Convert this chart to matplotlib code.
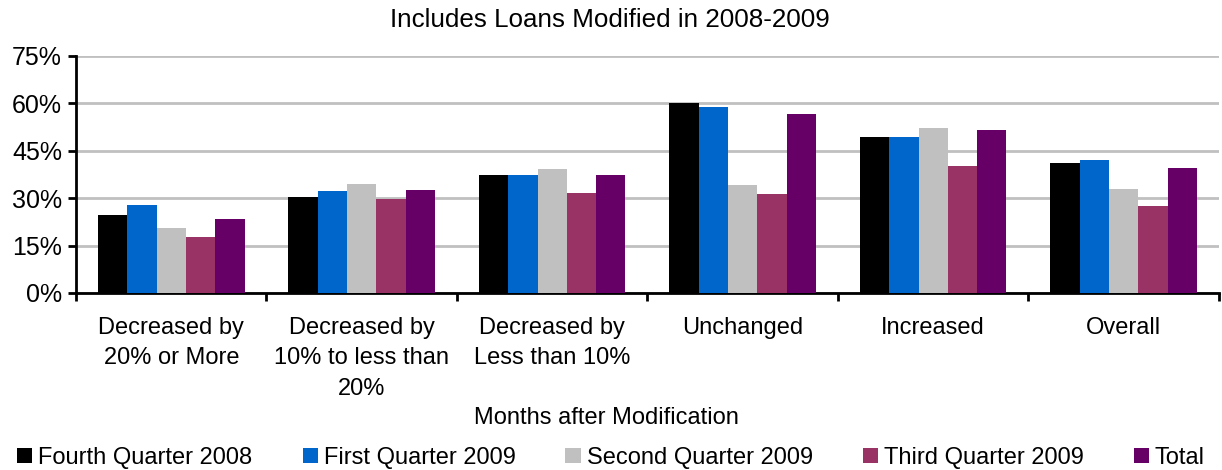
import matplotlib
matplotlib.use("Agg")
import matplotlib.pyplot as plt
from matplotlib.patches import Patch
import numpy as np

plt.rcParams['font.family'] = ['Liberation Sans', 'DejaVu Sans']

categories = ["Decreased by\n20% or More", "Decreased by\n10% to less than\n20%",
              "Decreased by\nLess than 10%", "Unchanged", "Increased", "Overall"]
series_names = ["Fourth Quarter 2008", "First Quarter 2009", "Second Quarter 2009",
                "Third Quarter 2009", "Total"]
q4_2008 = [24.6, 30.3, 37.3, 60.1, 49.3, 41.1]
q1_2009 = [27.8, 32.2, 37.3, 58.8, 49.3, 42.0]
q2_2009 = [20.5, 34.4, 39.2, 34.1, 52.2, 32.8]
q3_2009 = [17.6, 29.7, 31.6, 31.3, 40.1, 27.5]
total = [23.3, 32.5, 37.3, 56.6, 51.5, 39.5]
yticks = [0, 15, 30, 45, 60, 75]
colors = ["#000000", "#0066CC", "#C0C0C0", "#993366", "#660066"]

series = [q4_2008, q1_2009, q2_2009, q3_2009, total]

fig = plt.figure(figsize=(12.22, 4.70), dpi=100)
ax = fig.add_axes([0.0622, 0.3766, 0.9353, 0.5043])

n = len(series)
bw = 1.0 / 6.5
x = np.arange(len(categories))
for i, (vals, c, name) in enumerate(zip(series, colors, series_names)):
    offs = (i - (n - 1) / 2) * bw
    ax.bar(x + offs, vals, width=bw, color=c, label=name, zorder=3, linewidth=0)

ax.set_xlim(-0.5, len(categories) - 0.5)
ax.set_ylim(0, 75)
ax.set_yticks(yticks)
ax.set_yticklabels([f"{t}%" for t in yticks], fontsize=18)
ax.yaxis.grid(True, color="#C0C0C0", linewidth=2, zorder=0)
ax.set_axisbelow(True)

# category boundaries get the tick marks; labels sit at group centers
ax.set_xticks(np.arange(-0.5, len(categories), 1.0))
ax.set_xticklabels([])
ax.set_xticks(x, minor=True)
ax.set_xticklabels(categories, minor=True, fontsize=17, linespacing=1.5, va="top")
ax.tick_params(axis="x", which="minor", length=0, pad=17)
ax.tick_params(axis="x", which="major", length=6, width=2, direction="out")
ax.tick_params(axis="y", length=6, width=2, direction="out", pad=4)

for s in ["top", "right"]:
    ax.spines[s].set_visible(False)
for s in ["left", "bottom"]:
    ax.spines[s].set_linewidth(2)

fig.text(0.499, 0.957, "Includes Loans Modified in 2008-2009", ha="center", va="center", fontsize=18.7)
fig.text(0.496, 0.111, "Months after Modification", ha="center", va="center", fontsize=17)

handles = [Patch(facecolor=c, edgecolor="none") for c in colors]
fig.legend(handles, series_names, loc="center", bbox_to_anchor=(0.5, 0.026), ncol=5,
           frameon=False, fontsize=17, handlelength=0.64, handleheight=0.6,
           handletextpad=0.25, columnspacing=2.12, borderaxespad=0)

fig.savefig("out.png", dpi=100)
